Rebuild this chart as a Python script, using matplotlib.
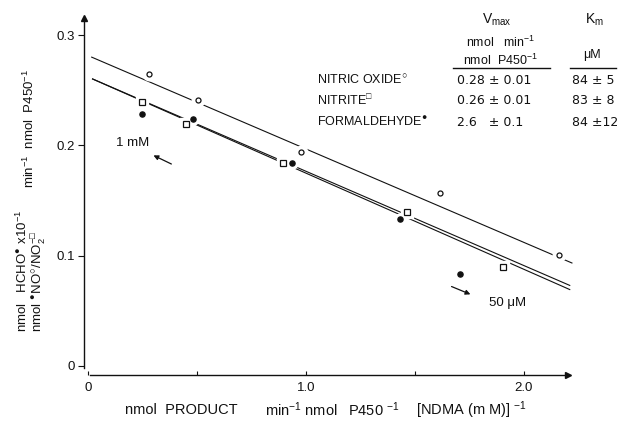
import numpy as np
import matplotlib.pyplot as plt
from matplotlib.lines import Line2D

plt.rcParams['font.family'] = ['Liberation Sans', 'DejaVu Sans']
plt.rcParams['mathtext.default'] = 'regular'

# ============================================================
# Data (x = v/[S], y = v)
# ============================================================
no_x = [0.281, 0.506, 0.977, 1.615, 2.162]
no_y = [0.265, 0.241, 0.194, 0.157, 0.101]

nitrite_x = [0.246, 0.450, 0.896, 1.465, 1.905]
nitrite_y = [0.239, 0.219, 0.184, 0.140, 0.090]

hcho_x = [0.246, 0.483, 0.934, 1.431, 1.706]
hcho_y = [0.228, 0.224, 0.184, 0.133, 0.083]

# fitted lines: intercept, slope, x range
line_intercepts = [0.2814, 0.262, 0.262]
line_slopes = [-0.0847, -0.0855, -0.0872]
line_x0 = [0.017, 0.021, 0.021]
line_x1 = [2.22, 2.21, 2.21]

# kinetic table
OPEN, SQUARE, DOT = '\u25cb', '\u25a1', '\u25cf'
table_names = ['NITRIC OXIDE$^{%s}$' % OPEN, 'NITRITE$^{%s}$' % SQUARE,
               'FORMALDEHYDE$^{%s}$' % DOT]
table_vmax = ['0.28 \u00b1 0.01', '0.26 \u00b1 0.01', '2.6   \u00b1 0.1']
table_km = ['84 \u00b1 5', '83 \u00b1 8', '84 \u00b112']

# x label pieces (text, left edge in px)
xlabel_parts = [('nmol  PRODUCT', 125), ('min$^{-1}$ nmol', 265),
                ('P450 $^{-1}$', 348), ('[NDMA (m M)] $^{-1}$', 416)]

W, H = 618, 421
INK = '#111111'
NUMFONT = ['DejaVu Sans']


def px(x, y):
    return x / W, 1 - y / H


fig = plt.figure(figsize=(W / 100, H / 100), dpi=100)
ax = fig.add_axes([0.1353, 0.1097, 0.7831, 0.8464])
ax.set_xlim(-0.02, 2.2)
ax.set_ylim(-0.008, 0.315)

# lines
for b, m, x0, x1 in zip(line_intercepts, line_slopes, line_x0, line_x1):
    xs = np.array([x0, x1])
    ax.plot(xs, b + m * xs, color=INK, lw=0.8, clip_on=False, zorder=2)

# white halos so the lines break around the points
for xs, ys, mk, ms in [(no_x, no_y, 'o', 9), (nitrite_x, nitrite_y, 's', 9),
                       (hcho_x, hcho_y, 'o', 8)]:
    ax.plot(xs, ys, mk, ms=ms, mfc='white', mec='white', ls='none',
            clip_on=False, zorder=3)

ax.plot(no_x, no_y, 'o', ms=3.6, mfc='white', mec=INK, mew=0.9, ls='none',
        clip_on=False, zorder=4)
ax.plot(nitrite_x, nitrite_y, 's', ms=4.4, mfc='white', mec=INK, mew=0.9,
        ls='none', clip_on=False, zorder=4)
ax.plot(hcho_x, hcho_y, 'o', ms=3.7, mfc=INK, mec=INK, ls='none',
        clip_on=False, zorder=4)

# axes styling
for s in ['top', 'right']:
    ax.spines[s].set_visible(False)
for s in ['left', 'bottom']:
    ax.spines[s].set_linewidth(1.0)
    ax.spines[s].set_color(INK)
ax.spines['left'].set_bounds(-0.002, 0.315)
ax.spines['bottom'].set_bounds(0.008, 2.2)

ax.set_xticks([0, 0.5, 1.0, 1.5, 2.0])
ax.set_xticklabels(['0', '', '1.0', '', '2.0'])
ax.set_yticks([0, 0.1, 0.2, 0.3])
ax.set_yticklabels(['0', '0.1', '0.2', '0.3'])
ax.tick_params(axis='x', direction='in', length=3, width=0.8, pad=5,
               labelsize=9.5, colors=INK)
ax.tick_params(axis='y', direction='out', length=4, width=0.8, pad=2,
               labelsize=9.5, colors=INK)

# axis arrows
ax.plot(1, 0, '>', color=INK, ms=4, transform=ax.transAxes, clip_on=False)
ax.plot(0, 1, '^', color=INK, ms=4, transform=ax.transAxes, clip_on=False)

# annotations
ax.text(0.206, 0.202, '1 mM', fontsize=9.5, color=INK, ha='center',
        va='center')
ax.annotate('', xy=(0.289, 0.192), xytext=(0.394, 0.182),
            arrowprops=dict(arrowstyle='-|>', color=INK, lw=0.9,
                            mutation_scale=7))
ax.text(1.927, 0.057, '50 \u03bcM', fontsize=9.5, color=INK, ha='center',
        va='center')
ax.annotate('', xy=(1.766, 0.064), xytext=(1.656, 0.073),
            arrowprops=dict(arrowstyle='-|>', color=INK, lw=0.9,
                            mutation_scale=7))

# axis labels
for txt, x in xlabel_parts:
    fig.text(*px(x, 410), txt, fontsize=10.5, color=INK, ha='left',
             va='center')
fig.text(*px(22, 332), 'nmol   HCHO$^{%s}$ x10$^{-1}$' % DOT,
         rotation=90, fontsize=9.5, color=INK, ha='center', va='bottom')
fig.text(*px(38, 332), 'nmol $^{%s}$NO$^{%s}$/NO$_2^{-%s}$'
         % (DOT, OPEN, SQUARE),
         rotation=90, fontsize=9.5, color=INK, ha='center', va='bottom')
fig.text(*px(29, 188), 'min$^{-1}$  nmol  P450$^{-1}$',
         rotation=90, fontsize=9.5, color=INK, ha='center', va='bottom')

# kinetic table
fig.text(*px(497, 20), 'V$_{max}$', fontsize=10, color=INK, ha='center',
         va='center')
fig.text(*px(594, 20), 'K$_{m}$', fontsize=10, color=INK, ha='center',
         va='center')
fig.text(*px(501, 42), 'nmol   min$^{-1}$', fontsize=9, color=INK,
         ha='center', va='center')
fig.text(*px(500, 60), 'nmol  P450$^{-1}$', fontsize=9, color=INK,
         ha='center', va='center')
fig.text(*px(592, 55), '\u03bcM', fontsize=9, color=INK, ha='center',
         va='center')
fig.add_artist(Line2D([453 / W, 550 / W], [1 - 68 / H, 1 - 68 / H],
                      color=INK, lw=1.0))
fig.add_artist(Line2D([570 / W, 616 / W], [1 - 68 / H, 1 - 68 / H],
                      color=INK, lw=1.0))

row_y = [80, 101, 122]
for name, vm, km, y in zip(table_names, table_vmax, table_km, row_y):
    fig.text(*px(317, y), name, fontsize=9, color=INK, ha='left', va='center')
    fig.text(*px(457, y), vm, fontsize=9, color=INK, ha='left', va='center',
             family=NUMFONT)
    fig.text(*px(572, y), km, fontsize=9, color=INK, ha='left', va='center',
             family=NUMFONT)

fig.savefig('out.png', dpi=100)
